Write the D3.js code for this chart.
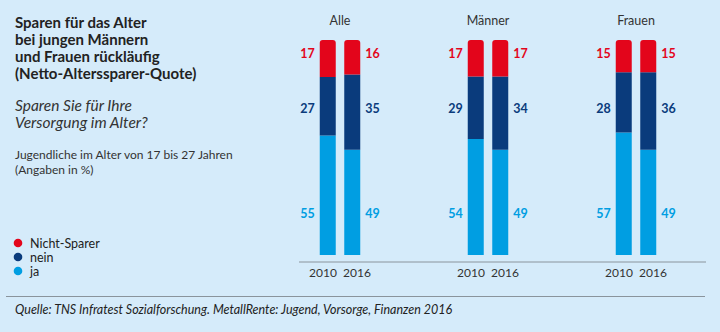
<!DOCTYPE html>
<html>
<head>
<meta charset="utf-8">
<style>
  body { margin: 0; background: #d5ebfa; }
  svg { display: block; font-family: Lato, "Noto Sans", sans-serif; }
</style>
</head>
<body>
<svg width="720" height="332"></svg>
<script src="https://d3js.org/d3.v7.min.js"></script>
<script>

// Netto-Alterssparer-Quote, Angaben in %
var groups = ["Alle", "Männer", "Frauen"];
var years = ["2010", "2016"];
var ja =          [55, 49, 54, 49, 57, 49];
var nein =        [27, 35, 29, 34, 28, 36];
var nichtSparer = [17, 16, 17, 17, 15, 15];
var seriesNames = ["ja", "nein", "Nicht-Sparer"];
var colors = ["#009ee2", "#0a3b7c", "#e3051b"];

var svg = d3.select("svg");

svg.append("rect").attr("width", 720).attr("height", 332).attr("fill", "#d5ebfa");

// one row per bar
var rows = [];
groups.forEach(function(g, i) {
  years.forEach(function(yr, j) {
    var k = i * years.length + j;
    rows.push({ group: g, year: yr, "ja": ja[k], "nein": nein[k], "Nicht-Sparer": nichtSparer[k] });
  });
});

var stack = d3.stack().keys(seriesNames).offset(d3.stackOffsetExpand);
var stacked = stack(rows);

var x0 = d3.scaleBand().domain(groups).range([266, 710]);
var x1 = d3.scalePoint().domain(years).range([-12.25, 12.25]);
var xYear = d3.scalePoint().domain(years).range([-17, 17]);
var y = d3.scaleLinear().domain([0, 1]).range([255, 40]);
var color = d3.scaleOrdinal().domain(seriesNames).range(colors);
var barW = 16;

function mid(g) { return x0(g) + x0.bandwidth() / 2; }
function barX(d) { return mid(d.group) + x1(d.year) - barW / 2; }

// rounded top only
function topRounded(x, y0, w, h, r) {
  return "M" + x + "," + (y0 + h) +
    "V" + (y0 + r) + "Q" + x + "," + y0 + " " + (x + r) + "," + y0 +
    "H" + (x + w - r) + "Q" + (x + w) + "," + y0 + " " + (x + w) + "," + (y0 + r) +
    "V" + (y0 + h) + "Z";
}

// text block left
var left = svg.append("g").attr("fill", "#222");
["Sparen für das Alter", "bei jungen Männern", "und Frauen rückläufig", "(Netto-Alterssparer-Quote)"]
  .forEach(function(t, i) {
    left.append("text").attr("x", 15).attr("y", 28 + i * 17)
      .attr("font-size", 15).attr("font-weight", 700).text(t);
  });
["Sparen Sie für Ihre", "Versorgung im Alter?"].forEach(function(t, i) {
  left.append("text").attr("x", 15).attr("y", 111 + i * 17)
    .attr("font-size", 15.5).attr("font-style", "italic").attr("fill", "#333").text(t);
});
["Jugendliche im Alter von 17 bis 27 Jahren", "(Angaben in %)"].forEach(function(t, i) {
  left.append("text").attr("x", 15).attr("y", 159 + i * 15)
    .attr("font-size", 12).attr("fill", "#333").text(t);
});

// baseline
svg.append("line")
  .attr("x1", 299).attr("x2", 706).attr("y1", 262).attr("y2", 262)
  .attr("stroke", "#8a949c").attr("stroke-width", 1);

// bars
stacked.forEach(function(layer, li) {
  svg.append("g").attr("fill", color(layer.key))
    .selectAll("path")
    .data(layer)
    .join("path")
      .attr("d", function(d) {
        var x = barX(d.data), yt = y(d[1]), h = y(d[0]) - y(d[1]);
        return li === stacked.length - 1 ? topRounded(x, yt, barW, h, 3)
          : "M" + x + "," + yt + "h" + barW + "v" + h + "h" + (-barW) + "Z";
      });
});

// value labels, fixed rows beside the bars
var labelRows = { "Nicht-Sparer": 58, "nein": 113, "ja": 218 };
stacked.forEach(function(layer) {
  svg.append("g").attr("fill", color(layer.key))
    .attr("font-size", 12.5).attr("font-weight", 700)
    .selectAll("text")
    .data(layer)
    .join("text")
      .attr("x", function(d) {
        return d.data.year === years[0] ? barX(d.data) - 5 : barX(d.data) + barW + 5;
      })
      .attr("y", labelRows[layer.key])
      .attr("text-anchor", function(d) { return d.data.year === years[0] ? "end" : "start"; })
      .text(function(d) { return d.data[layer.key]; });
});

// group titles
svg.append("g").attr("fill", "#333").attr("font-size", 12.5).attr("text-anchor", "middle")
  .selectAll("text").data(groups).join("text")
    .attr("x", mid)
    .attr("y", 25)
    .text(function(g) { return g; });

// year labels
svg.append("g").attr("fill", "#333").attr("font-size", 12).attr("text-anchor", "middle")
  .selectAll("text").data(rows).join("text")
    .attr("x", function(d) { return mid(d.group) + xYear(d.year); })
    .attr("y", 277)
    .text(function(d) { return d.year; });

// legend
var legend = svg.append("g").selectAll("g")
  .data(seriesNames.slice().reverse()).join("g")
    .attr("transform", function(d, i) { return "translate(18," + (243 + i * 14) + ")"; });
legend.append("circle").attr("r", 4.3).attr("fill", function(d) { return color(d); });
legend.append("text").attr("x", 12).attr("y", 4.5)
  .attr("font-size", 12.5).attr("fill", "#222").text(function(d) { return d; });

// footer
svg.append("line")
  .attr("x1", 6).attr("x2", 705).attr("y1", 296.5).attr("y2", 296.5)
  .attr("stroke", "#8a949c").attr("stroke-width", 1);
svg.append("text").attr("x", 15).attr("y", 314)
  .attr("font-size", 12.5).attr("font-style", "italic").attr("fill", "#222")
  .text("Quelle: TNS Infratest Sozialforschung. MetallRente: Jugend, Vorsorge, Finanzen 2016");

</script>
</body>
</html>
